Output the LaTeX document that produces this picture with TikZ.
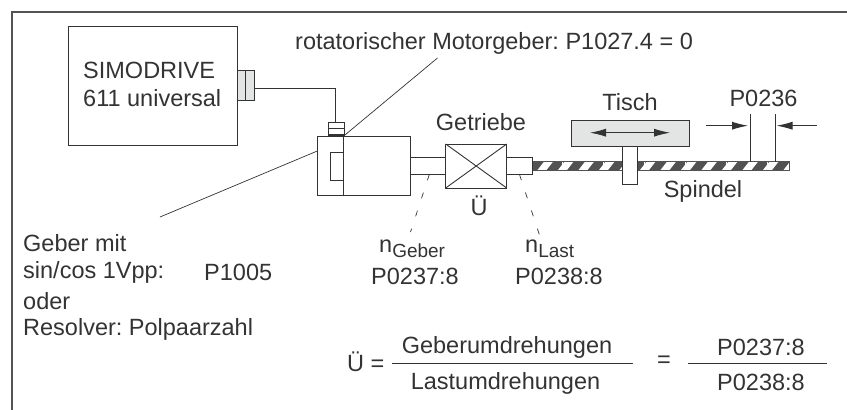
\documentclass[tikz,border=0pt]{standalone}
\usepackage{fontspec}
\usetikzlibrary{arrows.meta}
\setmainfont{Liberation Sans}
\definecolor{ink}{HTML}{333333}
\definecolor{boxgray}{HTML}{E3E5E5}
\newcommand{\lowsub}[1]{\raisebox{-5pt}{\fontsize{19}{22}\selectfont #1}}
\tikzset{
  ln/.style={draw=ink,line width=0.9pt},
  thinln/.style={draw=ink,line width=0.7pt},
  bx/.style={ln,inner sep=0pt,outer sep=0pt,anchor=north west},
  lab/.style={inner sep=0pt,text=ink,font=\fontsize{23.5}{28}\selectfont\frenchspacing},
  labl/.style={lab,anchor=west,align=left},
}
\begin{document}
\begin{tikzpicture}[x=1pt,y=-1pt]
\useasboundingbox (0,0) rectangle (847,410);
\draw[ln,line width=1.1pt,draw=ink!85] (12,410) -- (12,12) -- (847,12);
% SIMODRIVE
\node[bx,minimum width=169.4pt,minimum height=119pt] (drive) at (68.3,26) {};
\node[labl] (drivetxt) at (83,84) {SIMODRIVE\\611 universal};
\node[bx,fill=boxgray,minimum width=16.6pt,minimum height=30pt] (plug) at (237.7,70) {};
\draw[ln] (245.7,70) -- (245.7,100);
% motor
\node[bx,minimum width=92.7pt,minimum height=59.3pt] (motor) at (317.3,136) {};
\draw[ln] (343.7,136) -- (343.7,195.3);
\node[bx,minimum width=13pt,minimum height=27.3pt] (enc) at (330.7,152.7) {};
\node[bx,minimum width=15.7pt,minimum height=13.7pt] (conn) at (328.3,122.3) {};
\draw[ln] (328.3,128.3) -- (344,128.3);
\draw[ln,line width=1.4pt] (328.3,135) -- (344,135);
\coordinate (c1) at (335,88.3);
\draw[ln] (plug.east |- c1) -- (c1) -- (c1 |- conn.north);
% leaders
\coordinate (l1) at (437.5,58);
\draw[thinln] (343.7,136) -- (l1);
\coordinate (l2) at (160,217);
\draw[thinln] (317.3,151) -- (l2);
% shaft, gear
\node[bx,minimum width=35.7pt,minimum height=17.3pt] (shaft1) at (410,157) {};
\node[bx,minimum width=61pt,minimum height=44pt] (gear) at (445.7,144) {};
\draw[ln] (gear.north west) -- (gear.south east) (gear.north east) -- (gear.south west);
\node[bx,minimum width=25.6pt,minimum height=17.3pt] (shaft2) at (506.7,157) {};
% spindle
\begin{scope}
\clip (533,161.7) rectangle (789,170.7);
\fill[ink!85] (533,161.7) rectangle (789,170.7);
\foreach \x in {537,557.5,...,790}{\fill[white] (\x,170.7) -- (\x+9,170.7) -- (\x+16,161.7) -- (\x+7,161.7) -- cycle;}
\foreach \x in {562,603,644,685.7,726.7,767.7}{\draw[white,line width=0.8pt] (\x,161.7) -- (\x,170.7);}
\end{scope}
\draw[ink!85,line width=0.6pt] (533,161.7) rectangle (789,170.7);
% table
\node[bx,fill=boxgray,minimum width=118pt,minimum height=26pt] (tisch) at (571,120) {};
\node[bx,fill=white,minimum width=15.7pt,minimum height=38.3pt] (nut) at (622,146) {};
\coordinate (ta) at (590,132.7);
\coordinate (tb) at (670,132.7);
\draw[ln,{Latex[length=16pt,width=8pt]}-{Latex[length=16pt,width=8pt]}] (ta) -- (tb);
% pitch
\draw[ln] (750.3,114.3) -- (750.3,161.7) (775,114.3) -- (775,161.7);
\coordinate (a1) at (706,125.7);
\coordinate (a1e) at (748,125.7);
\coordinate (a2) at (816.7,125.7);
\coordinate (a2e) at (776.5,125.7);
\draw[ln,-{Latex[length=16pt,width=8pt]}] (a1) -- (a1e);
\draw[ln,-{Latex[length=16pt,width=8pt]}] (a2) -- (a2e);
% dashed leaders
\draw[thinln,dash pattern=on 6pt off 13pt] (429.3,174.5) -- (410.5,232);
\draw[thinln,dash pattern=on 6pt off 13pt] (519.5,174.5) -- (539.5,235);
% labels
\node[labl] (t1) at (295,43) {rotatorischer Motorgeber: P1027.4 = 0};
\node[lab] (t2) at (481,122) {Getriebe};
\node[lab] (t3) at (630,102) {Tisch};
\node[lab] (t4) at (763.5,98) {P0236};
\node[lab] (t5) at (703,191) {Spindel};
\node[lab] (t6) at (479,206) {Ü};
\node[labl] (t7) at (379,249) {n\lowsub{Geber}};
\node[labl] (t8) at (525,249) {n\lowsub{Last}};
\node[lab] (t9) at (415,276) {P0237:8};
\node[lab] (t10) at (559,276) {P0238:8};
\node[labl] (g1) at (23,243) {Geber mit};
\node[labl] (g2) at (23,272) {sin/cos 1Vpp:};
\node[labl] (g4) at (204,272) {P1005};
\node[labl] (g5) at (23,301) {oder};
\node[labl] (g6) at (23,329) {Resolver: Polpaarzahl};
% formula
\node[labl] (f0) at (347,362) {Ü =};
\node[lab] (f1) at (507,347) {Geberumdrehungen};
\node[lab] (f2) at (505.5,383) {Lastumdrehungen};
\node[lab] (f3) at (664,362) {=};
\node[lab] (f4) at (761,347) {P0237:8};
\node[lab] (f5) at (761,382) {P0238:8};
\coordinate (fa) at (392,363);
\coordinate (fb) at (633,363);
\coordinate (fc) at (688,363);
\coordinate (fd) at (827,363);
\draw[ln] (fa) -- (fb);
\draw[ln] (fc) -- (fd);
\end{tikzpicture}
\end{document}
